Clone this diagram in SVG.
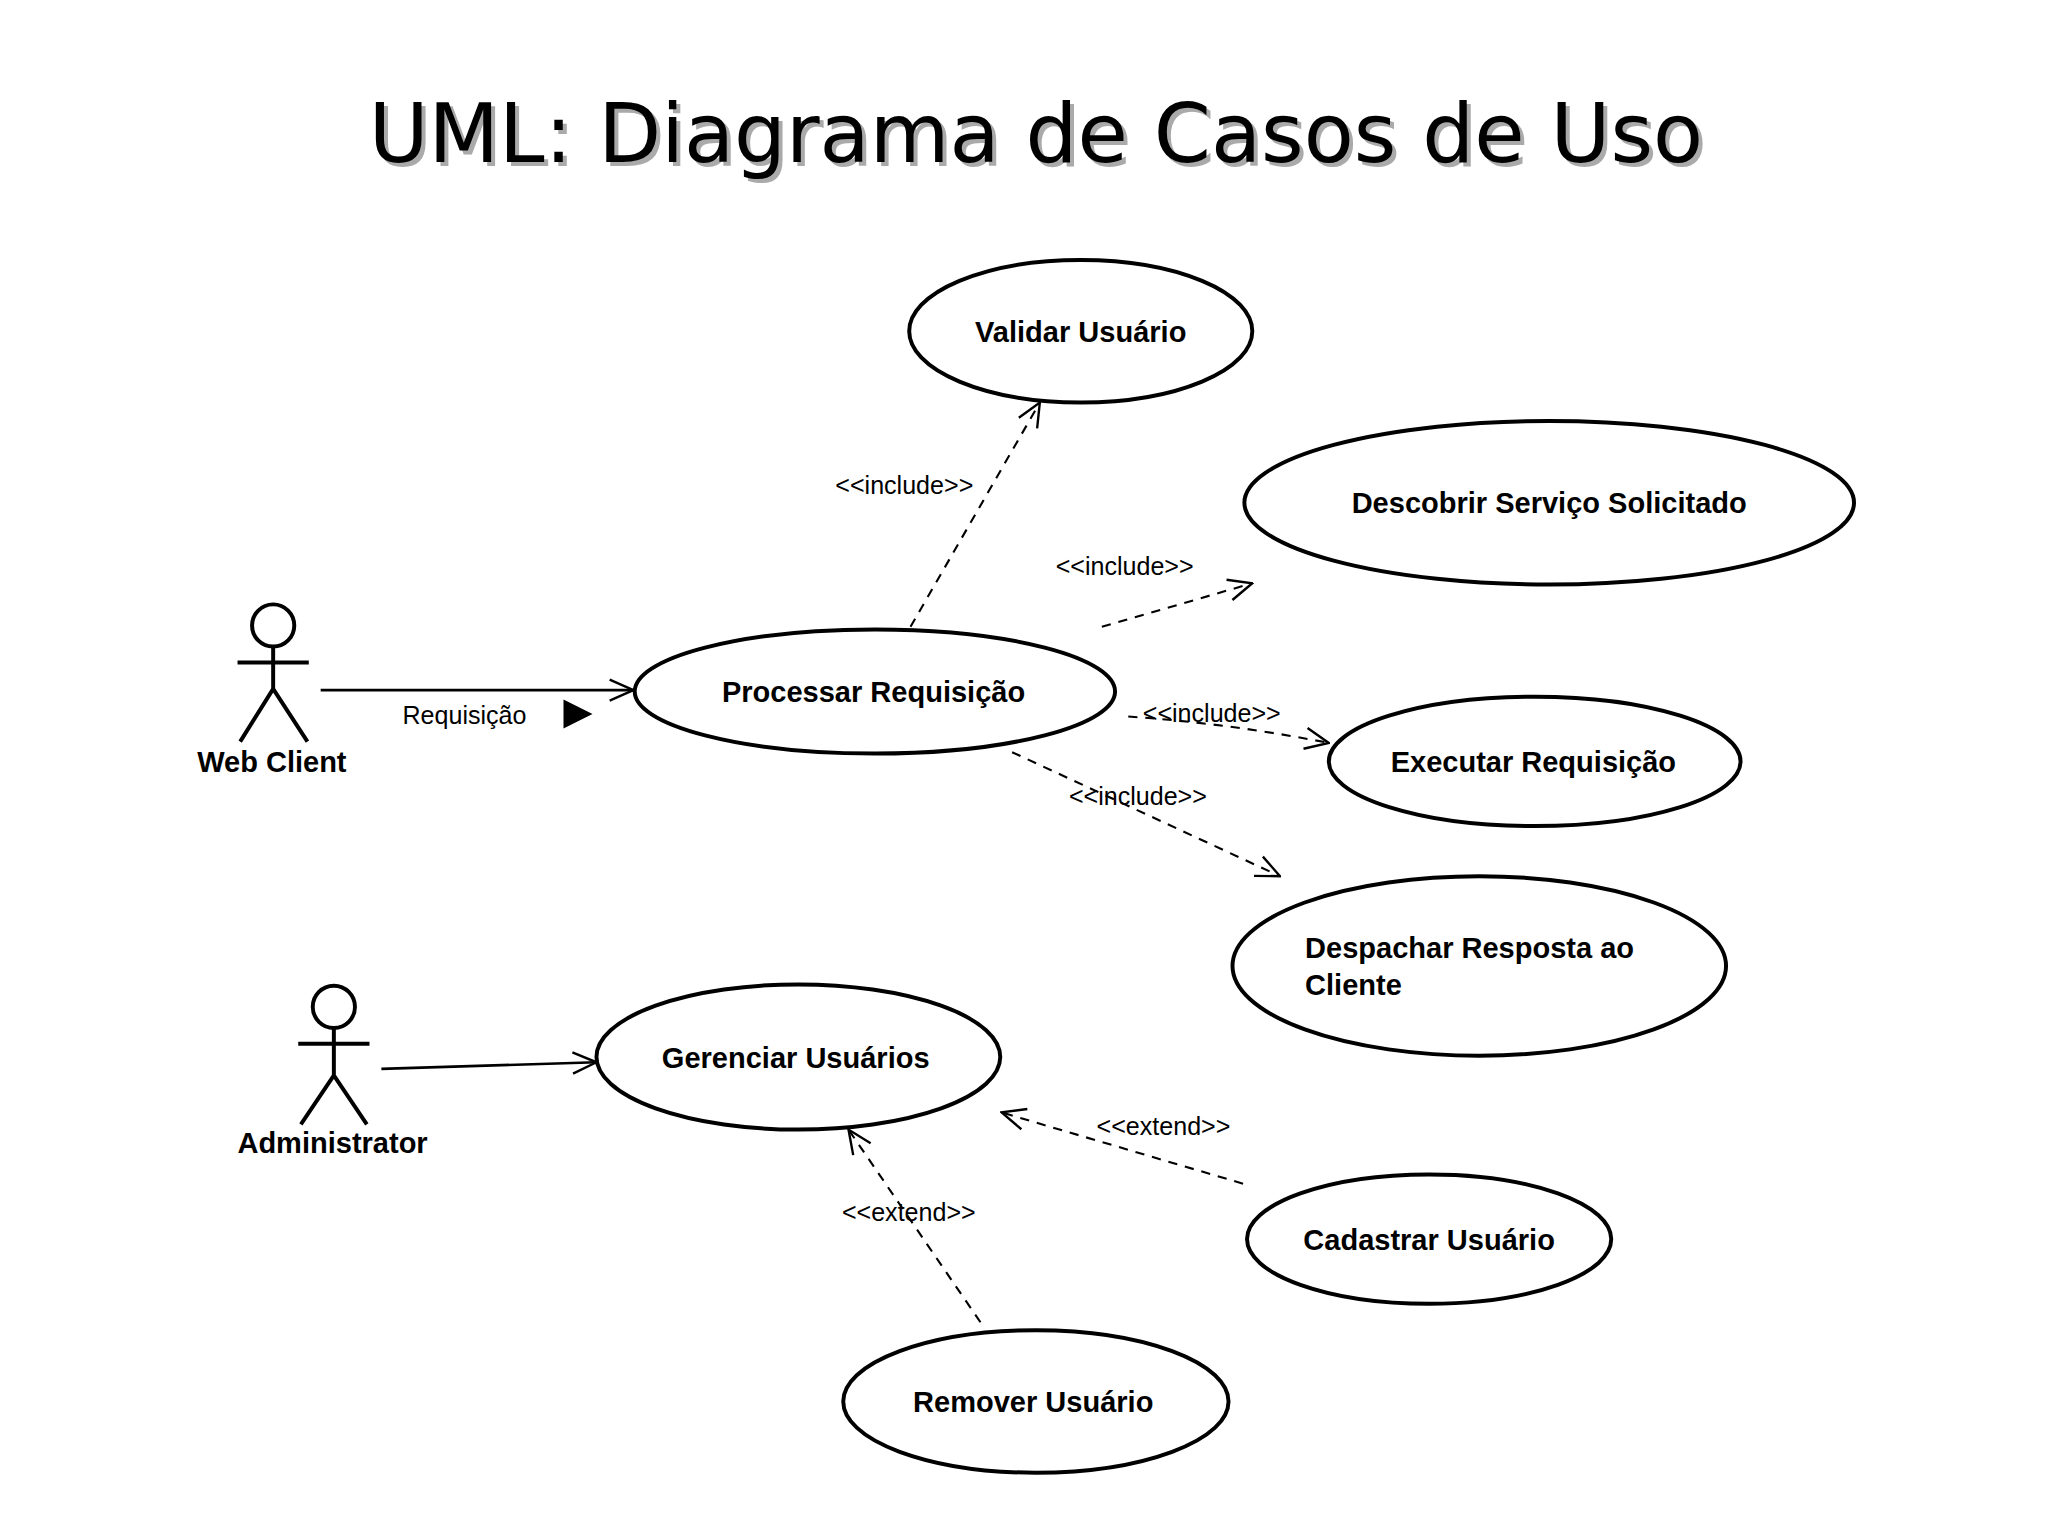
<svg xmlns="http://www.w3.org/2000/svg" width="2048" height="1535" viewBox="0 0 2048 1535">
<defs>
<style>
.uc{fill:#fff;stroke:#000;stroke-width:3}
.t{font-family:"Liberation Sans",Arial,sans-serif;font-weight:bold;font-size:22px;fill:#000}
.c{text-anchor:middle}
.lbl{font-family:"Liberation Sans",Arial,sans-serif;font-size:19px;fill:#000}
.ln{stroke:#000;stroke-width:2;fill:none}
.d{stroke:#000;stroke-width:1.6;fill:none;stroke-dasharray:7,6}
.act{stroke:#000;stroke-width:3;fill:none}
</style>
<marker id="open" viewBox="0 0 20 20" refX="19" refY="10" markerWidth="20" markerHeight="20" markerUnits="userSpaceOnUse" orient="auto">
<path d="M1,2 L19,10 L1,18" fill="none" stroke="#000" stroke-width="1.8"/>
</marker>
</defs>
<rect width="2048" height="1535" fill="#fff"/>
<g transform="scale(1.3196)">
<g id="title" font-family="DejaVu Sans,Verdana,sans-serif" font-size="62" text-anchor="middle">
<text x="788" y="126" fill="#aaa">UML: Diagrama de Casos de Uso</text>
<text x="785" y="123" fill="#000">UML: Diagrama de Casos de Uso</text>
</g>
<g id="connectors">
<line class="ln" x1="243" y1="523" x2="480" y2="523" marker-end="url(#open)"/>
<text class="lbl" x="305" y="549">Requisição</text>
<path d="M427,530 L449,541 L427,552 Z" fill="#000"/>
<line class="ln" x1="289" y1="810" x2="452" y2="805" marker-end="url(#open)"/>
<line class="d" x1="690" y1="475" x2="788" y2="305" marker-end="url(#open)"/>
<text class="lbl" x="633" y="374">&lt;&lt;include&gt;&gt;</text>
<line class="d" x1="835" y1="475" x2="949" y2="442" marker-end="url(#open)"/>
<text class="lbl" x="800" y="436">&lt;&lt;include&gt;&gt;</text>
<path class="d" d="M855,543 Q930,548 1007,563" marker-end="url(#open)"/>
<text class="lbl" x="866" y="547">&lt;&lt;include&gt;&gt;</text>
<line class="d" x1="767" y1="570" x2="970" y2="664" marker-end="url(#open)"/>
<text class="lbl" x="810" y="610">&lt;&lt;include&gt;&gt;</text>
<line class="d" x1="942" y1="897" x2="759" y2="843" marker-end="url(#open)"/>
<text class="lbl" x="831" y="860">&lt;&lt;extend&gt;&gt;</text>
<line class="d" x1="743" y1="1002" x2="643" y2="856" marker-end="url(#open)"/>
<text class="lbl" x="638" y="925">&lt;&lt;extend&gt;&gt;</text>
</g>
<g id="webclient">
<circle class="act" cx="207" cy="474" r="16"/>
<path class="act" d="M180,502 H234 M207,490 V522 L182,562 M207,522 L233,562"/>
<text class="t c" x="206" y="585">Web Client</text>
</g>
<g id="administrator">
<circle class="act" cx="253" cy="763" r="16"/>
<path class="act" d="M226,791 H280 M253,779 V815 L228,852 M253,815 L278,852"/>
<text class="t c" x="252" y="874">Administrator</text>
</g>
<g id="validar"><ellipse class="uc" cx="819" cy="251" rx="130" ry="54"/><text class="t c" x="819" y="259">Validar Usuário</text></g>
<g id="descobrir"><ellipse class="uc" cx="1174" cy="381" rx="231" ry="62"/><text class="t c" x="1174" y="389">Descobrir Serviço Solicitado</text></g>
<g id="processar"><ellipse class="uc" cx="663" cy="524" rx="182" ry="47"/><text class="t c" x="662" y="532">Processar Requisição</text></g>
<g id="executar"><ellipse class="uc" cx="1163" cy="577" rx="156" ry="49"/><text class="t c" x="1162" y="585">Executar Requisição</text></g>
<g id="despachar"><ellipse class="uc" cx="1121" cy="732" rx="187" ry="68"/><text class="t" x="989" y="726">Despachar Resposta ao</text><text class="t" x="989" y="754">Cliente</text></g>
<g id="gerenciar"><ellipse class="uc" cx="605" cy="801" rx="153" ry="55"/><text class="t c" x="603" y="809">Gerenciar Usuários</text></g>
<g id="cadastrar"><ellipse class="uc" cx="1083" cy="939" rx="138" ry="49"/><text class="t c" x="1083" y="947">Cadastrar Usuário</text></g>
<g id="remover"><ellipse class="uc" cx="785" cy="1062" rx="146" ry="54"/><text class="t c" x="783" y="1070">Remover Usuário</text></g>
</g>
</svg>
